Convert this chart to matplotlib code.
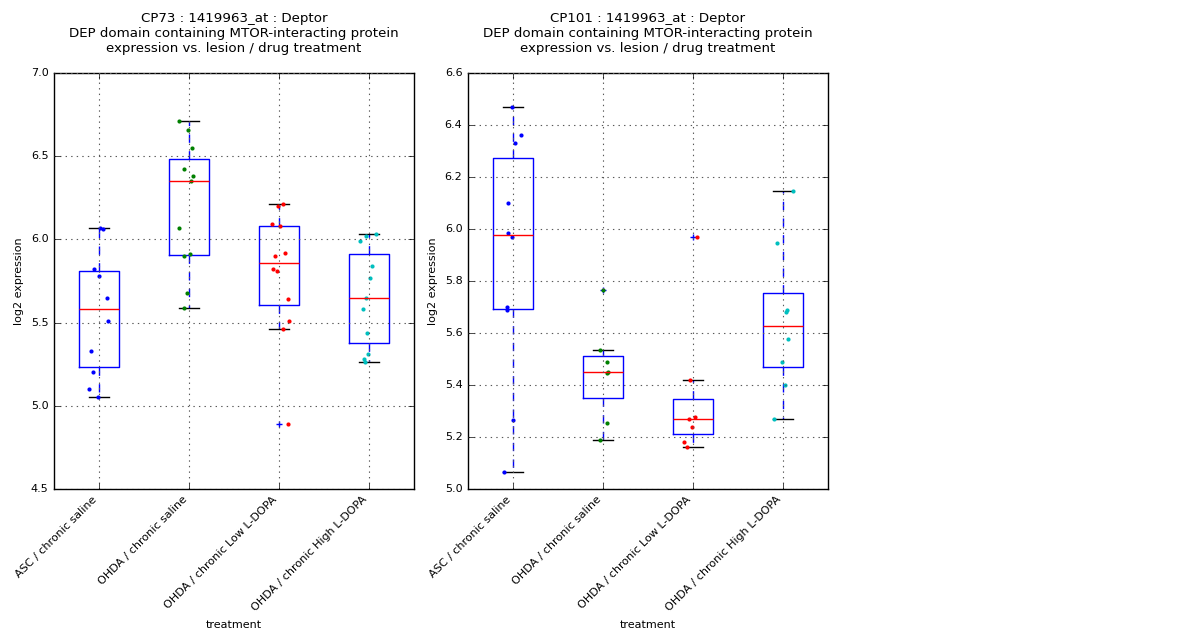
import numpy as np
import matplotlib
matplotlib.use('Agg')
import matplotlib.pyplot as plt

plt.style.use('classic')

# groups on the x axis
treatments = ['ASC / chronic saline', 'OHDA / chronic saline',
              'OHDA / chronic Low L-DOPA', 'OHDA / chronic High L-DOPA']
point_colors = ['b', 'g', 'r', 'c']

# CP73 log2 expression per group
cp73_asc = [6.07, 6.06, 5.82, 5.78, 5.65, 5.51, 5.33, 5.20, 5.10, 5.05]
cp73_saline = [6.71, 6.66, 6.55, 6.42, 6.38, 6.35, 6.07, 5.91, 5.90, 5.68, 5.59]
cp73_low = [6.21, 6.20, 6.09, 6.08, 5.92, 5.90, 5.82, 5.81, 5.64, 5.51, 5.46, 4.888]
cp73_high = [6.03, 6.02, 5.99, 5.84, 5.77, 5.65, 5.58, 5.44, 5.31, 5.28, 5.26]

# CP101 log2 expression per group
cp101_asc = [6.47, 6.36, 6.33, 6.10, 5.985, 5.97, 5.70, 5.69, 5.265, 5.065]
cp101_saline = [5.765, 5.535, 5.49, 5.45, 5.445, 5.255, 5.19]
cp101_low = [5.97, 5.42, 5.275, 5.27, 5.24, 5.18, 5.16]
cp101_high = [6.145, 5.945, 5.69, 5.68, 5.575, 5.49, 5.40, 5.27]

panels = [
    ('CP73', [cp73_asc, cp73_saline, cp73_low, cp73_high], (4.5, 7.0)),
    ('CP101', [cp101_asc, cp101_saline, cp101_low, cp101_high], (5.0, 6.6)),
]

fig = plt.figure(figsize=(12, 6.4), dpi=100, facecolor='white')
rng = np.random.RandomState(3)

lefts = [0.045, 0.39]
for left, (region, groups, ylim) in zip(lefts, panels):
    ax = fig.add_axes([left, 0.236, 0.3, 0.65])
    ax.set_facecolor('white')
    ax.boxplot(groups, widths=0.45,
               whiskerprops=dict(color='b', linestyle=(0, (6, 6))),
               flierprops=dict(marker='+', markeredgecolor='b', markersize=5))
    # jittered points on top of the boxes
    for i, vals in enumerate(groups):
        x = i + 1 + rng.uniform(-0.12, 0.12, len(vals))
        ax.plot(x, vals, '.', color=point_colors[i], markersize=6, markeredgewidth=0)
    ax.set_xlim(0.5, 4.5)
    ax.set_ylim(*ylim)
    ax.grid(True, color='0.35', linestyle=(0, (1, 3)), linewidth=0.8)
    ax.set_xticks(range(1, 5))
    ax.set_xticklabels(treatments, rotation=45, ha='right', fontsize=8)
    ax.tick_params(axis='y', labelsize=8)
    ax.set_xlabel('treatment', fontsize=8)
    ax.set_ylabel('log2 expression', fontsize=8)
    ax.set_title(region + ' : 1419963_at : Deptor\n'
                 'DEP domain containing MTOR-interacting protein\n'
                 'expression vs. lesion / drug treatment', fontsize=9.6, pad=15)

plt.savefig('out.png', dpi=100, facecolor='white')
